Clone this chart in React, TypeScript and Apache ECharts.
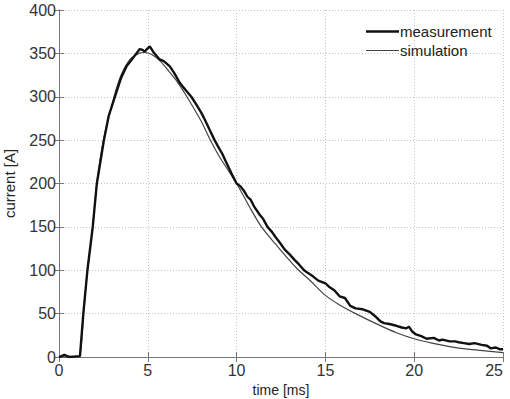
import React, { useEffect, useRef } from "react";
import * as echarts from "echarts";

const xTicks = [0, 5, 10, 15, 20, 25];
const yTicks = [0, 50, 100, 150, 200, 250, 300, 350, 400];

const measTime = [
  0, 0.15, 0.3, 0.45, 0.6, 0.9, 1.18, 1.37, 1.6, 1.9, 2.13, 2.53, 2.8, 3.15, 3.5, 3.8, 4.1, 4.36, 4.55,
  4.7, 4.83, 4.95, 5.11, 5.3, 5.5, 5.67, 5.9, 6.24, 6.5, 6.8, 7.0, 7.2, 7.45, 7.7, 8.0, 8.2, 8.48, 8.76,
  9.0, 9.2, 9.4, 9.7, 10.0, 10.2, 10.4, 10.6, 10.8, 11.0, 11.3, 11.5, 11.74, 12.0, 12.2, 12.5, 12.7,
  13.0, 13.26, 13.5, 13.8, 14.0, 14.3, 14.6, 15.0, 15.2, 15.5, 15.8, 16.1, 16.4, 16.7, 17.1, 17.5,
  17.8, 18.1, 18.3, 18.6, 19.0, 19.3, 19.56, 19.7, 19.9, 20.1, 20.4, 20.7, 21.1, 21.4, 21.6, 22.0,
  22.3, 22.5, 22.8, 23.1, 23.4, 23.8, 24.1, 24.3, 24.6, 24.8, 25.0,
];
const measValue = [
  0, 1, 2.5, 1, 0, 0.5, 1, 50, 100, 150, 200, 250, 278, 300, 322, 335, 343, 350, 355,
  354, 352, 355, 358, 352, 347, 343, 341, 335, 327, 316, 311, 306, 300, 292, 282, 274, 262, 250,
  241, 234, 225, 212, 200, 197, 192, 185, 181, 173, 164, 159, 150, 144, 138, 130, 124,
  118, 112, 107, 100, 97, 93, 88, 85, 81, 77, 70, 68, 59, 56, 55, 52,
  47, 41, 39, 38, 36, 34, 33, 35, 29, 26, 24, 21, 22, 19, 20, 18,
  18, 17, 16, 15, 16, 14, 13, 10, 11, 9, 9,
];

const simTime = [
  0, 1.0, 1.15, 1.4, 1.6, 1.9, 2.1, 2.5, 3.1, 3.5, 4.0, 4.5, 4.8, 5.2, 5.7, 6.2, 6.7, 7.2, 8.0, 8.5,
  9.0, 10.0, 10.7, 11.4, 12.2, 13.4, 14.2, 15.0, 15.8, 16.7, 18.0, 19.0, 20.0, 21.0, 22.0, 23.0, 24.0, 25.0,
];
const simValue = [
  0, 0, 0, 55, 100, 150, 195, 250, 300, 325, 343, 350, 351, 349, 341, 329, 316, 300, 272, 251,
  232, 200, 174, 150, 130, 102, 87, 71, 60, 50, 37, 28, 21, 16, 12, 9, 7, 5,
];

const FONT = "'Liberation Sans', Arial, Helvetica, sans-serif";

export default function App() {
  const ref = useRef<HTMLDivElement>(null);
  useEffect(() => {
    if (!ref.current) return;
    const chart = echarts.init(ref.current, undefined, { renderer: "svg" });
    const meas = measTime.map((t, i) => [t, measValue[i]]);
    const sim = simTime.map((t, i) => [t, simValue[i]]);
    const axisLine = { show: true, lineStyle: { color: "#777", width: 1 } };
    const tick = { show: true, inside: true, length: 5, lineStyle: { color: "#777" } };
    const splitLine = { show: true, lineStyle: { color: "#c4c4c4", type: [1, 2] as any, width: 1 } };
    const legendText = { fontFamily: FONT, fontSize: 15, color: "#222", padding: [0, 0, 0, -4] };
    chart.setOption({
      animation: false,
      backgroundColor: "#fff",
      textStyle: { fontFamily: FONT },
      grid: { left: 59, right: 7, top: 10, bottom: 42, containLabel: false, outerBoundsMode: "none" },
      legend: [
        {
          left: 361,
          top: 19,
          icon: "rect",
          itemWidth: 33,
          itemHeight: 2.4,
          textStyle: legendText,
          data: [{ name: "measurement", itemStyle: { color: "#111" } }],
        },
        {
          left: 361,
          top: 38,
          icon: "rect",
          itemWidth: 33,
          itemHeight: 1.2,
          textStyle: legendText,
          data: [{ name: "simulation", itemStyle: { color: "#444" } }],
        },
      ],
      xAxis: [
        {
          type: "value",
          min: 0,
          max: 25,
          interval: 5,
          name: "time [ms]",
          nameLocation: "middle",
          nameGap: 26,
          nameTextStyle: { fontFamily: FONT, fontSize: 14, color: "#222" },
          axisLine,
          axisTick: tick,
          axisLabel: { fontFamily: FONT, fontSize: 16, color: "#333", margin: 5, alignMaxLabel: "right" },
          splitLine,
        },
        {
          type: "value",
          position: "top",
          min: 0,
          max: 25,
          interval: 5,
          axisLine,
          axisTick: tick,
          axisLabel: { show: false },
          splitLine: { show: false },
        },
      ],
      yAxis: [
        {
          type: "value",
          min: 0,
          max: 400,
          interval: 50,
          name: "current [A]",
          nameLocation: "middle",
          nameGap: 42,
          nameTextStyle: { fontFamily: FONT, fontSize: 15, color: "#222" },
          axisLine,
          axisTick: tick,
          axisLabel: { fontFamily: FONT, fontSize: 16, color: "#333", margin: 3 },
          splitLine,
        },
        {
          type: "value",
          position: "right",
          min: 0,
          max: 400,
          interval: 50,
          axisLine,
          axisTick: tick,
          axisLabel: { show: false },
          splitLine: { show: false },
        },
      ],
      series: [
        {
          name: "simulation",
          type: "line",
          data: sim,
          smooth: 0.3,
          symbol: "none",
          lineStyle: { color: "#444", width: 1.2 },
          itemStyle: { color: "#444" },
          z: 2,
        },
        {
          name: "measurement",
          type: "line",
          data: meas,
          symbol: "none",
          lineStyle: { color: "#111", width: 2.4 },
          itemStyle: { color: "#111" },
          z: 3,
        },
      ],
    });
    return () => chart.dispose();
  }, []);
  return <div ref={ref} style={{ width: 510, height: 399, position: "absolute", left: 0, top: 0 }} />;
}
